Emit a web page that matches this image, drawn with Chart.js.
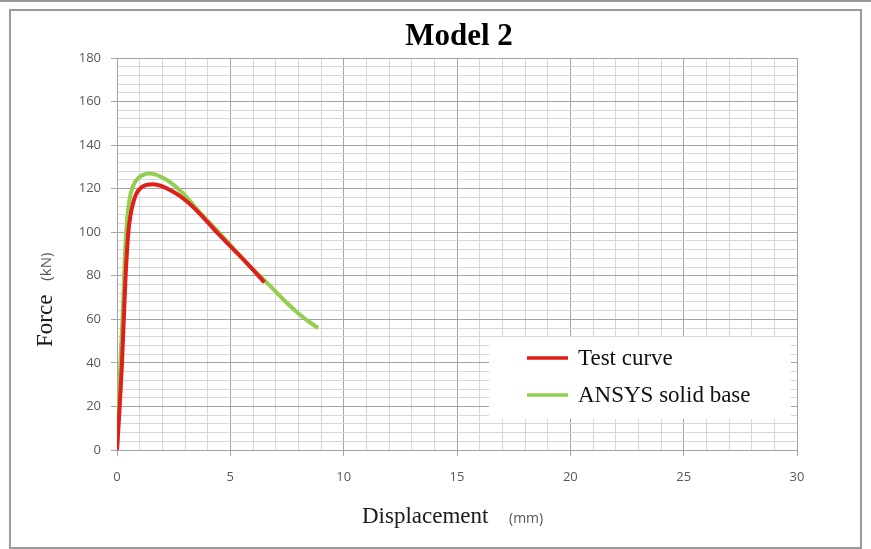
<!DOCTYPE html>
<html>
<head>
<meta charset="utf-8">
<script src="https://cdn.jsdelivr.net/npm/chart.js@4"></script>
<style>body{margin:0;background:#fff}</style>
</head>
<body>
<canvas id="c" width="871" height="549"></canvas>
<script>
// values (displacement mm, force kN)
const testX  = [0, 0.12, 0.22, 0.3, 0.38, 0.5, 0.6, 0.7, 0.93, 1.6, 2.5, 3.1, 3.7, 4.4, 5.1, 5.8, 6.5]
const testY  = [0, 20, 40, 60, 80, 100, 108, 113, 119, 122, 118.5, 114, 108, 100, 92.5, 85, 77]
const ansysX = [0, 0.08, 0.15, 0.22, 0.28, 0.35, 0.44, 0.55, 0.7, 0.95, 1.45, 2.2, 2.9, 3.66, 4.4, 5.1, 5.8, 6.6, 7.5, 8.2, 8.87]
const ansysY = [0, 20, 40, 55, 70, 90, 105, 115, 121, 125, 127, 124, 118, 109, 101, 93, 85, 77, 67.5, 61, 56]
const seriesNames = ['Test curve', 'ANSYS solid base']
const xRange = [0, 30]
const yRange = [0, 180]

const ctx = document.getElementById('c').getContext('2d')

function pts(xs, ys) {
    return xs.map((x, i) => { return {x: x, y: ys[i]} })
}

const serif = '"Liberation Serif", "Times New Roman", serif'
const sans = '"Open Sans", "Noto Sans", sans-serif'
const majorGrid = '#a4a4a4'
const minorGrid = '#d6d6d6'

// frame, title, axis titles and the legend box are drawn by hand
const decor = {
    id: 'decor',
    beforeDraw(chart) {
        const c = chart.ctx
        c.save()
        c.fillStyle = '#fff'
        c.fillRect(0, 0, chart.width, chart.height)
        c.strokeStyle = '#9a9a9a'
        c.lineWidth = 2
        c.beginPath()
        c.moveTo(0, 1); c.lineTo(chart.width, 1)
        c.stroke()
        c.strokeRect(10, 10, 851, 538)
        c.restore()
    },
    afterDatasetsDraw(chart) {
        const c = chart.ctx
        const area = chart.chartArea
        c.save()
        // title
        c.fillStyle = '#000'
        c.font = 'bold 31px ' + serif
        c.textAlign = 'center'
        c.textBaseline = 'middle'
        c.fillText('Model 2', (area.left + area.right) / 2 + 2, 37)

        // x title
        c.textAlign = 'left'
        c.font = '23px ' + serif
        c.fillStyle = '#1a1a1a'
        c.fillText('Displacement', 362, 517)
        c.font = '14px ' + sans
        c.fillStyle = '#555'
        c.fillText('(mm)', 509, 519)

        // y title
        c.save()
        c.translate(46, 347)
        c.rotate(-Math.PI / 2)
        c.font = '23px ' + serif
        c.fillStyle = '#1a1a1a'
        c.fillText('Force', 0, 0)
        let w = c.measureText('Force').width
        c.font = '15px ' + sans
        c.fillStyle = '#555'
        c.fillText('(kN)', w + 14, 1)
        c.restore()

        // legend
        c.fillStyle = '#fff'
        c.fillRect(489, 337, 302, 82)
        chart.data.datasets.forEach((ds, i) => {
            let y = 358 + i * 37
            c.strokeStyle = ds.borderColor
            c.lineWidth = 3.5
            c.beginPath()
            c.moveTo(527, y); c.lineTo(568, y)
            c.stroke()
            c.fillStyle = '#111'
            c.font = '23px ' + serif
            c.fillText(ds.label, 578, y + 1)
        })
        c.restore()
    }
}

var chart = new Chart(ctx, {
    type: 'line',
    data: {
        datasets: [
            {label: seriesNames[0], data: pts(testX, testY), borderColor: '#e01e1a', borderWidth: 4, pointRadius: 0, cubicInterpolationMode: 'monotone', fill: false},
            {label: seriesNames[1], data: pts(ansysX, ansysY), borderColor: '#92cf50', borderWidth: 4, pointRadius: 0, cubicInterpolationMode: 'monotone', fill: false}
        ]
    },
    options: {
        responsive: false,
        animation: false,
        layout: {padding: {left: 0, top: 58, right: 74, bottom: 0}},
        plugins: {legend: {display: false}, title: {display: false}, tooltip: {enabled: false}},
        scales: {
            x: {
                type: 'linear',
                min: xRange[0], max: xRange[1],
                afterFit: (s) => { s.height = 99 },
                border: {color: majorGrid},
                grid: {
                    color: (g) => g.tick && g.tick.value % 5 === 0 ? majorGrid : minorGrid,
                    tickColor: (g) => g.tick && g.tick.value % 5 === 0 ? majorGrid : 'rgba(0,0,0,0)',
                    tickLength: 6
                },
                ticks: {
                    stepSize: 1, autoSkip: false, maxRotation: 0, padding: 13,
                    color: '#595959', font: {family: sans, size: 13},
                    callback: (v) => v % 5 === 0 ? v : ''
                }
            },
            y: {
                min: yRange[0], max: yRange[1],
                afterFit: (s) => { s.width = 117 },
                border: {color: majorGrid},
                grid: {
                    color: (g) => g.tick && g.tick.value % 20 === 0 ? majorGrid : minorGrid,
                    tickColor: (g) => g.tick && g.tick.value % 20 === 0 ? majorGrid : 'rgba(0,0,0,0)',
                    tickLength: 6
                },
                ticks: {
                    stepSize: 4, autoSkip: false, padding: 10,
                    color: '#595959', font: {family: sans, size: 13},
                    callback: (v) => v % 20 === 0 ? v : ''
                }
            }
        }
    },
    plugins: [decor]
})
</script>
</body>
</html>
